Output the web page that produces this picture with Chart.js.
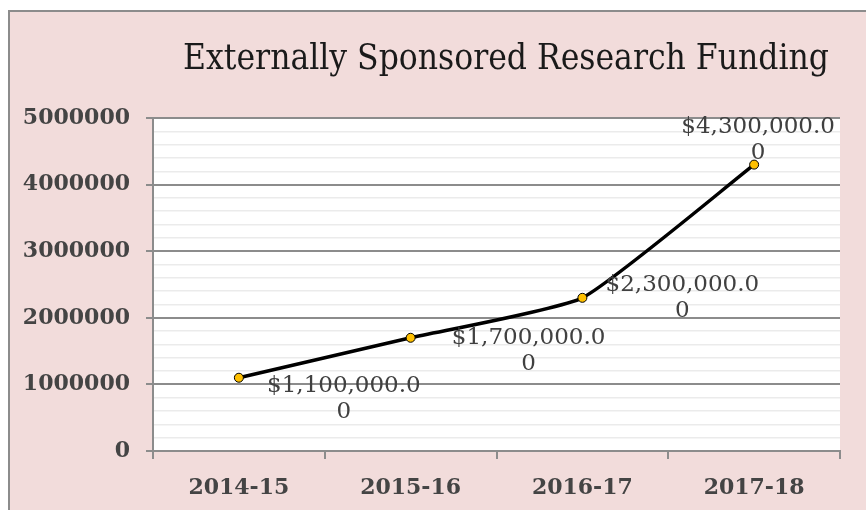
<!DOCTYPE html>
<html>
<head>
<meta charset="utf-8">
<script src="https://cdn.jsdelivr.net/npm/chart.js@4"></script>
<style>
  html, body { margin: 0; padding: 0; background: #ffffff; }
  canvas { display: block; }
</style>
</head>
<body>
<canvas id="chart" width="866" height="510"></canvas>
<script>
const titleText = "Externally Sponsored Research Funding";
const years = ["2014-15", "2015-16", "2016-17", "2017-18"];
const funding = [1100000, 1700000, 2300000, 4300000];
const yMin = 0;
const yMax = 5000000;
const yMajorStep = 1000000;
const yMinorStep = 200000;

// label placement relative to each point (line 1 centre)
const labelShift = [
    { dx: 105, dy: 8 },
    { dx: 118, dy: 0 },
    { dx: 100, dy: -13 },
    { dx: 4, dy: -38 },
];

const pink = "#f2dcdb";
const axisGray = "#8c8c8c";
const minorGray = "#ebebeb";

const fmtMoney = (v) => "$" + v.toLocaleString("en-US", { minimumFractionDigits: 2, maximumFractionDigits: 2 });

const frame = {
    id: "frame",
    beforeDraw(chart) {
        const c = chart.ctx;
        c.save();
        c.fillStyle = "#ffffff";
        c.fillRect(0, 0, chart.width, chart.height);
        c.fillStyle = pink;
        c.fillRect(9, 11, chart.width, chart.height);
        c.strokeStyle = axisGray;
        c.lineWidth = 2;
        c.beginPath();
        c.moveTo(9, chart.height);
        c.lineTo(9, 11);
        c.lineTo(chart.width, 11);
        c.stroke();
        const a = chart.chartArea;
        c.fillStyle = "#ffffff";
        c.fillRect(a.left, a.top, a.right - a.left, a.bottom - a.top);
        c.restore();
    },
    afterDraw(chart) {
        const c = chart.ctx;
        c.save();
        c.fillStyle = "#1a1a1a";
        c.font = "35px 'DejaVu Serif Condensed', 'DejaVu Serif', serif";
        c.textAlign = "center";
        c.textBaseline = "middle";
        c.fillText(titleText, 506, 60);
        c.restore();
    },
};

const dataLabels = {
    id: "dataLabels",
    afterDatasetsDraw(chart) {
        const c = chart.ctx;
        const meta = chart.getDatasetMeta(0);
        c.save();
        c.fillStyle = "#404040";
        c.font = "23px 'DejaVu Serif', serif";
        c.textAlign = "center";
        c.textBaseline = "middle";
        meta.data.forEach((pt, i) => {
            const s = fmtMoney(funding[i]);
            const first = s.slice(0, s.length - 1);
            const second = s.slice(s.length - 1);
            const x = pt.x + labelShift[i].dx;
            const y = pt.y + labelShift[i].dy;
            c.fillText(first, x, y);
            c.fillText(second, x, y + 26);
        });
        c.restore();
    },
};

const isMajor = (v) => Math.round(v) % yMajorStep === 0;

new Chart(document.getElementById("chart"), {
    type: "line",
    data: {
        labels: years,
        datasets: [
            {
                data: funding,
                borderColor: "#000000",
                borderWidth: 3.5,
                tension: 0.15,
                pointRadius: 4.5,
                pointBackgroundColor: "#ffc000",
                pointBorderColor: "#000000",
                pointBorderWidth: 1,
                fill: false,
            },
        ],
    },
    options: {
        responsive: false,
        animation: false,
        devicePixelRatio: 1,
        layout: { padding: { top: 118, right: 26, left: 0, bottom: 0 } },
        plugins: {
            legend: { display: false },
            title: { display: false },
            tooltip: { enabled: false },
        },
        scales: {
            x: {
                offset: true,
                grid: {
                    offset: true,
                    drawOnChartArea: false,
                    drawTicks: true,
                    tickLength: 8,
                    color: axisGray,
                    lineWidth: 2,
                },
                border: { color: axisGray, width: 2 },
                ticks: {
                    color: "#444444",
                    font: { family: "'DejaVu Serif', serif", size: 22, weight: "bold" },
                    padding: 16,
                },
                afterFit(scale) { scale.height = 59; },
            },
            y: {
                min: yMin,
                max: yMax,
                grid: {
                    color: (ctx) => (ctx.tick && isMajor(ctx.tick.value) ? axisGray : minorGray),
                    lineWidth: (ctx) => (ctx.tick && isMajor(ctx.tick.value) ? 2 : 1.5),
                    tickColor: (ctx) => (ctx.tick && isMajor(ctx.tick.value) ? axisGray : "rgba(0,0,0,0)"),
                    tickLength: 7,
                },
                border: { color: axisGray, width: 2 },
                ticks: {
                    stepSize: yMinorStep,
                    autoSkip: false,
                    color: "#444444",
                    font: { family: "'DejaVu Serif', serif", size: 22, weight: "bold" },
                    padding: 16,
                    callback: (v) => (isMajor(v) ? String(v) : ""),
                },
                afterFit(scale) { scale.width = 153; },
            },
        },
    },
    plugins: [frame, dataLabels],
});
</script>
</body>
</html>
